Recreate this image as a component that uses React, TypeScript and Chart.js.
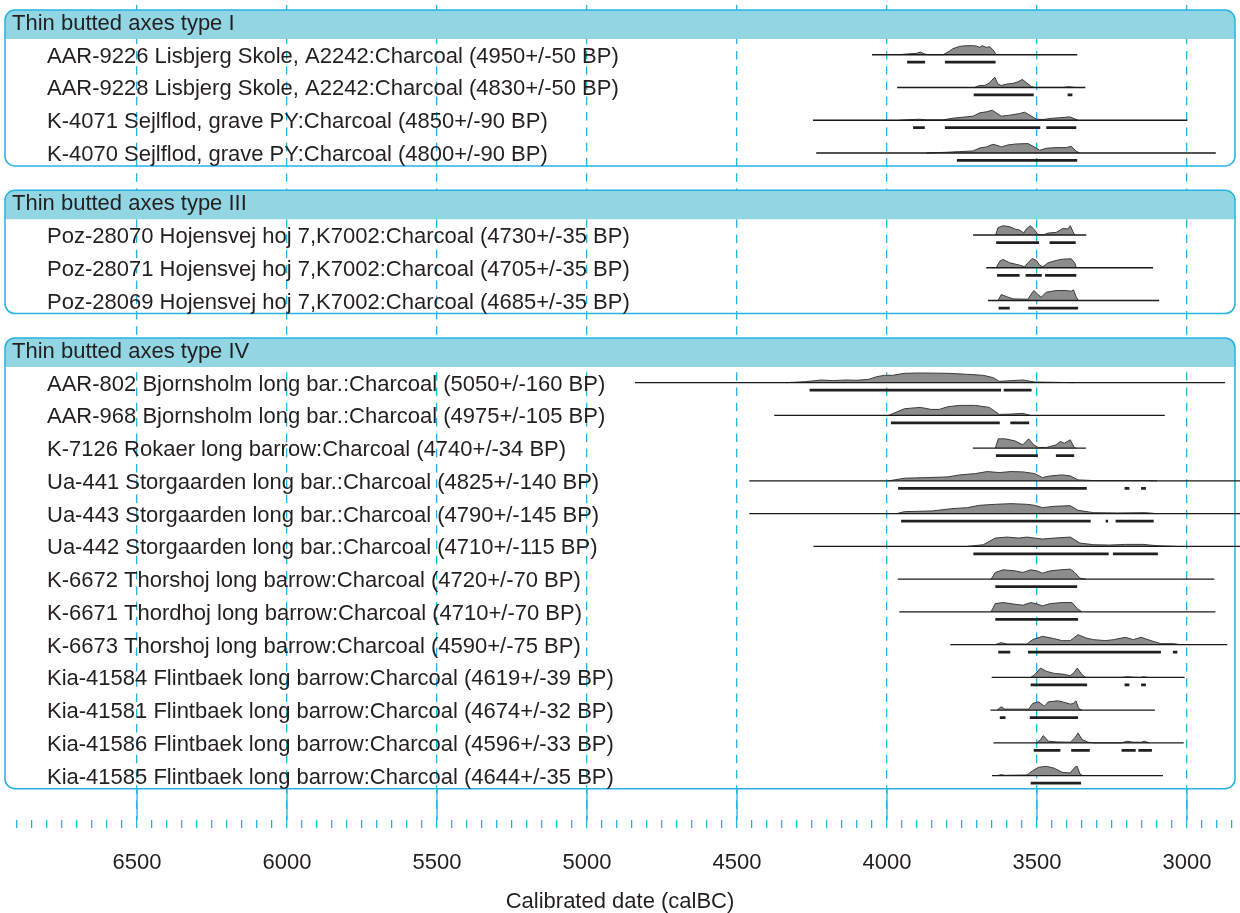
import React, { useEffect, useRef } from 'react';
import { Chart, registerables } from 'chart.js';

Chart.register(...registerables);

// ---------------- DATA ----------------
const groupTitles = ['Thin butted axes type I', 'Thin butted axes type III', 'Thin butted axes type IV'];
const groupSizes = [4, 3, 13];

const sampleLabels = [
  'AAR-9226 Lisbjerg Skole, A2242:Charcoal (4950+/-50 BP)',
  'AAR-9228 Lisbjerg Skole, A2242:Charcoal (4830+/-50 BP)',
  'K-4071 Sejlflod, grave PY:Charcoal (4850+/-90 BP)',
  'K-4070 Sejlflod, grave PY:Charcoal (4800+/-90 BP)',
  'Poz-28070 Hojensvej hoj 7,K7002:Charcoal (4730+/-35 BP)',
  'Poz-28071 Hojensvej hoj 7,K7002:Charcoal (4705+/-35 BP)',
  'Poz-28069 Hojensvej hoj 7,K7002:Charcoal (4685+/-35 BP)',
  'AAR-802 Bjornsholm long bar.:Charcoal (5050+/-160 BP)',
  'AAR-968 Bjornsholm long bar.:Charcoal (4975+/-105 BP)',
  'K-7126 Rokaer long barrow:Charcoal (4740+/-34 BP)',
  'Ua-441 Storgaarden long bar.:Charcoal (4825+/-140 BP)',
  'Ua-443 Storgaarden long bar.:Charcoal (4790+/-145 BP)',
  'Ua-442 Storgaarden long bar.:Charcoal (4710+/-115 BP)',
  'K-6672 Thorshoj long barrow:Charcoal (4720+/-70 BP)',
  'K-6671 Thordhoj long barrow:Charcoal (4710+/-70 BP)',
  'K-6673 Thorshoj long barrow:Charcoal (4590+/-75 BP)',
  'Kia-41584 Flintbaek long barrow:Charcoal (4619+/-39 BP)',
  'Kia-41581 Flintbaek long barrow:Charcoal (4674+/-32 BP)',
  'Kia-41586 Flintbaek long barrow:Charcoal (4596+/-33 BP)',
  'Kia-41585 Flintbaek long barrow:Charcoal (4644+/-35 BP)',
];

// extent of each plotted distribution (calBC)
const lineStart = [4050, 3966, 4247, 4236, 3713, 3669, 3663, 4840, 4376, 3714, 4459, 4459, 4245, 3964, 3959, 3789, 3651, 3655, 3645, 3650];
const lineEnd = [3366, 3339, 2999, 2904, 3336, 3113, 3093, 2873, 3074, 3337, 2790, 2790, 2790, 2909, 2905, 2866, 3008, 3107, 3011, 3080];

// 95.4% ranges (calBC)
const ranges = [
  [[3933, 3873], [3807, 3638]],
  [[3711, 3511], [3398, 3382]],
  [[3913, 3874], [3807, 3489], [3469, 3369]],
  [[3767, 3366]],
  [[3636, 3493], [3458, 3371]],
  [[3633, 3558], [3538, 3484], [3473, 3369]],
  [[3628, 3591], [3529, 3363]],
  [[4258, 3620], [3611, 3518]],
  [[3987, 3624], [3589, 3526]],
  [[3637, 3497], [3437, 3376]],
  [[3963, 3334], [3208, 3192], [3153, 3137]],
  [[3953, 3321], [3271, 3263], [3238, 3111]],
  [[3712, 3261], [3247, 3097]],
  [[3639, 3366]],
  [[3639, 3363]],
  [[3629, 3589], [3530, 3087], [3047, 3032]],
  [[3521, 3333], [3208, 3192], [3153, 3137]],
  [[3624, 3605], [3524, 3363]],
  [[3511, 3422], [3386, 3324], [3218, 3171], [3162, 3117]],
  [[3521, 3353]],
];

// calibrated probability (relative units) : [calBC, prob]
const densities = [
  [[3958, 0], [3936, 2], [3902, 4], [3889, 8], [3874, 2], [3863, 0], [3813, 0], [3797, 8], [3780, 18], [3758, 25], [3736, 27], [3713, 27], [3702, 26], [3691, 22], [3682, 27], [3669, 22], [3658, 24], [3647, 15], [3636, 0]],
  [[3708, 0], [3691, 6], [3674, 6], [3658, 14], [3641, 31], [3630, 10], [3619, 6], [3602, 10], [3580, 12], [3563, 17], [3549, 24], [3536, 15], [3519, 3], [3508, 0], [3413, 0], [3397, 2], [3382, 1], [3374, 0]],
  [[3958, 0], [3913, 2], [3891, 3], [3869, 1], [3813, 1], [3780, 6], [3736, 10], [3713, 12], [3691, 22], [3669, 25], [3649, 30], [3636, 22], [3619, 12], [3591, 15], [3558, 20], [3541, 24], [3524, 15], [3502, 3], [3480, 2], [3447, 6], [3413, 8], [3391, 10], [3374, 4], [3363, 0]],
  [[3869, 0], [3802, 2], [3758, 4], [3713, 6], [3691, 15], [3669, 18], [3647, 26], [3630, 22], [3619, 18], [3597, 24], [3569, 27], [3530, 28], [3513, 20], [3491, 8], [3469, 14], [3436, 16], [3402, 16], [3386, 20], [3369, 5], [3358, 0]],
  [[3638, 0], [3630, 22], [3613, 28], [3591, 25], [3574, 18], [3558, 15], [3544, 6], [3536, 18], [3522, 28], [3508, 15], [3497, 2], [3480, 0], [3463, 6], [3436, 8], [3413, 20], [3397, 18], [3389, 28], [3380, 10], [3374, 0]],
  [[3636, 0], [3624, 20], [3613, 25], [3591, 15], [3558, 8], [3541, 3], [3530, 15], [3516, 28], [3502, 22], [3491, 8], [3480, 3], [3463, 15], [3436, 22], [3413, 26], [3386, 27], [3374, 15], [3369, 0]],
  [[3630, 0], [3619, 18], [3602, 12], [3580, 5], [3530, 4], [3519, 20], [3510, 30], [3497, 18], [3486, 10], [3469, 25], [3436, 30], [3402, 30], [3386, 28], [3378, 32], [3369, 10], [3361, 0]],
  [[4337, 0], [4271, 3], [4218, 8], [4179, 6], [4139, 8], [4100, 7], [4061, 10], [4034, 18], [4008, 22], [3982, 22], [3942, 28], [3889, 29], [3797, 28], [3732, 25], [3679, 22], [3646, 15], [3626, 4], [3587, 6], [3547, 8], [3508, 2], [3376, 0]],
  [[3995, 0], [3968, 10], [3942, 20], [3889, 24], [3853, 18], [3826, 18], [3797, 26], [3758, 30], [3705, 30], [3659, 24], [3626, 3], [3587, 4], [3547, 6], [3521, 0]],
  [[3639, 0], [3629, 28], [3607, 28], [3574, 22], [3547, 10], [3528, 28], [3511, 10], [3495, 2], [3468, 2], [3436, 10], [3422, 20], [3409, 15], [3389, 25], [3376, 2], [3370, 0]],
  [[3995, 0], [3942, 8], [3863, 10], [3797, 12], [3758, 18], [3705, 22], [3666, 28], [3626, 25], [3587, 28], [3547, 27], [3508, 22], [3482, 10], [3455, 15], [3416, 18], [3389, 15], [3363, 3], [3311, 1], [3205, 1], [3139, 1], [3100, 0]],
  [[3968, 0], [3942, 6], [3850, 8], [3784, 15], [3732, 18], [3692, 25], [3639, 28], [3587, 30], [3534, 28], [3508, 25], [3482, 18], [3442, 22], [3389, 24], [3363, 10], [3311, 3], [3232, 2], [3139, 3], [3100, 0]],
  [[3732, 0], [3679, 5], [3639, 25], [3600, 28], [3561, 25], [3534, 28], [3508, 25], [3482, 22], [3442, 25], [3389, 28], [3357, 10], [3311, 5], [3258, 4], [3205, 6], [3146, 6], [3100, 2], [3034, 0]],
  [[3653, 0], [3639, 20], [3613, 28], [3574, 25], [3547, 20], [3521, 28], [3501, 25], [3482, 18], [3455, 25], [3422, 28], [3389, 30], [3374, 20], [3357, 3], [3337, 0]],
  [[3653, 0], [3639, 25], [3613, 28], [3574, 23], [3547, 20], [3521, 28], [3501, 24], [3482, 18], [3455, 25], [3416, 28], [3383, 28], [3366, 10], [3350, 0]],
  [[3639, 0], [3620, 6], [3600, 2], [3534, 2], [3514, 15], [3482, 25], [3442, 18], [3416, 12], [3389, 12], [3363, 30], [3337, 20], [3311, 15], [3271, 12], [3245, 15], [3205, 22], [3179, 15], [3153, 22], [3120, 12], [3087, 3], [3047, 3], [3021, 0]],
  [[3521, 0], [3508, 8], [3488, 28], [3468, 18], [3442, 12], [3416, 10], [3389, 5], [3376, 15], [3366, 28], [3350, 8], [3337, 0], [3220, 0], [3199, 2], [3170, 0], [3155, 0], [3146, 2], [3130, 0]],
  [[3633, 0], [3620, 10], [3607, 3], [3528, 3], [3514, 20], [3495, 25], [3475, 12], [3462, 25], [3429, 28], [3403, 22], [3389, 18], [3379, 20], [3370, 28], [3361, 5], [3350, 0]],
  [[3501, 0], [3488, 10], [3479, 22], [3462, 5], [3436, 3], [3389, 2], [3374, 15], [3363, 30], [3350, 10], [3330, 2], [3311, 0], [3218, 0], [3199, 5], [3179, 2], [3153, 2], [3142, 5], [3126, 0]],
  [[3633, 0], [3620, 3], [3607, 1], [3534, 2], [3514, 15], [3495, 25], [3468, 28], [3442, 22], [3416, 10], [3389, 8], [3374, 25], [3366, 28], [3357, 5], [3347, 0]],
];

const axisMinBC = 2823.3;
const axisMaxBC = 6956.7;
const firstMinorTick = 6900;
const tickStep = 50;
const labelStep = 500;
const axisTitle = 'Calibrated date (calBC)';

// ---------------- STYLE / LAYOUT ----------------
const W = 1240;
const H = 913;
const CYAN = '#27b2e4';
const HEADER_FILL = '#93d6e3';
const TEXT = '#231f20';
const FONT = '"Liberation Sans", Arial, Helvetica, sans-serif';
const FONT_SIZE = 22;

const BOX_TOP0 = 10;
const HEADER_H = 29;
const FIRST_ROW = 44.7;
const ROW_STEP = 32.75;
const LAST_PAD = 13;
const GROUP_GAP = 24.4;
const BOX_LEFT = 5;
const BOX_RIGHT = 1235;
const BOX_R = 10;
const PROB_SCALE = 1 / 3; // px per probability unit
const BAR_OFFSET = 7.5;
const TRANSPARENT = 'rgba(0,0,0,0)';

function computeLayout() {
  const groups: { top: number; bottom: number }[] = [];
  const rowY: number[] = [];
  let top = BOX_TOP0;
  groupSizes.forEach((n) => {
    const first = top + FIRST_ROW;
    for (let i = 0; i < n; i++) rowY.push(first + i * ROW_STEP);
    const bottom = first + (n - 1) * ROW_STEP + LAST_PAD;
    groups.push({ top, bottom });
    top = bottom + GROUP_GAP;
  });
  return { groups, rowY };
}

export default function App() {
  const ref = useRef<HTMLCanvasElement | null>(null);

  useEffect(() => {
    if (!ref.current) return;
    const { groups, rowY } = computeLayout();

    const datasets: any[] = [];
    sampleLabels.forEach((_, i) => {
      const base = rowY[i];
      datasets.push({
        label: 'density ' + i,
        data: densities[i].map(([yr, p]) => ({ x: yr, y: base - p * PROB_SCALE })),
        borderColor: '#3b3b3b',
        borderWidth: 1,
        backgroundColor: '#8c8c8c',
        fill: { value: base },
        pointRadius: 0,
        tension: 0,
        order: 3,
      });
      datasets.push({
        label: 'line ' + i,
        data: [
          { x: lineStart[i], y: base },
          { x: lineEnd[i], y: base },
        ],
        borderColor: '#1a1a1a',
        borderWidth: 1.4,
        pointRadius: 0,
        fill: false,
        order: 2,
      });
      const pts: any[] = [];
      ranges[i].forEach(([a, b]) => {
        pts.push({ x: a, y: base + BAR_OFFSET });
        pts.push({ x: b, y: base + BAR_OFFSET });
        pts.push({ x: b, y: null });
      });
      datasets.push({
        label: 'range ' + i,
        data: pts,
        borderColor: '#231f20',
        borderWidth: 2.8,
        pointRadius: 0,
        fill: false,
        spanGaps: false,
        order: 1,
      });
    });

    const decor = {
      id: 'decor',
      beforeDatasetsDraw(chart: any) {
        const { ctx, chartArea } = chart;
        const xs = chart.scales.x;
        const ys = chart.scales.y;
        ctx.save();
        // solid extension of major ticks below the last box
        const lastBottom = ys.getPixelForValue(groups[groups.length - 1].bottom);
        ctx.strokeStyle = CYAN;
        ctx.lineWidth = 1.3;
        for (let v = Math.ceil(axisMinBC / labelStep) * labelStep; v <= axisMaxBC; v += labelStep) {
          const px = xs.getPixelForValue(v);
          ctx.beginPath();
          ctx.moveTo(px, lastBottom);
          ctx.lineTo(px, chartArea.bottom);
          ctx.stroke();
        }
        groups.forEach((g, gi) => {
          const top = ys.getPixelForValue(g.top);
          const bottom = ys.getPixelForValue(g.bottom);
          const hb = top + HEADER_H;
          // header band
          ctx.beginPath();
          ctx.moveTo(BOX_LEFT, hb);
          ctx.lineTo(BOX_LEFT, top + BOX_R);
          ctx.arcTo(BOX_LEFT, top, BOX_LEFT + BOX_R, top, BOX_R);
          ctx.lineTo(BOX_RIGHT - BOX_R, top);
          ctx.arcTo(BOX_RIGHT, top, BOX_RIGHT, top + BOX_R, BOX_R);
          ctx.lineTo(BOX_RIGHT, hb);
          ctx.closePath();
          ctx.fillStyle = HEADER_FILL;
          ctx.fill();
          // outline
          ctx.beginPath();
          ctx.roundRect(BOX_LEFT, top, BOX_RIGHT - BOX_LEFT, bottom - top, BOX_R);
          ctx.strokeStyle = CYAN;
          ctx.lineWidth = 1.5;
          ctx.stroke();
          // title
          ctx.fillStyle = TEXT;
          ctx.font = `${FONT_SIZE}px ${FONT}`;
          ctx.textBaseline = 'alphabetic';
          ctx.textAlign = 'left';
          ctx.fillText(groupTitles[gi], 12, top + 20);
        });
        ctx.fillStyle = TEXT;
        ctx.font = `${FONT_SIZE}px ${FONT}`;
        sampleLabels.forEach((lab, i) => {
          ctx.fillText(lab, 47, ys.getPixelForValue(rowY[i]) + 8);
        });
        ctx.restore();
      },
    };

    const chart = new Chart(ref.current, {
      type: 'line',
      data: { datasets },
      plugins: [decor],
      options: {
        responsive: false,
        animation: false,
        events: [],
        layout: { autoPadding: false, padding: { top: 5, left: 0, right: 0, bottom: 0 } },
        plugins: { legend: { display: false }, tooltip: { enabled: false } },
        scales: {
          x: {
            type: 'linear',
            reverse: true,
            min: axisMinBC,
            max: axisMaxBC,
            afterFit: (scale: any) => {
              scale.height = 93;
              scale.paddingLeft = 0;
              scale.paddingRight = 0;
            },
            border: { display: false, dash: [8.5, 6.8] },
            grid: {
              color: (c: any) => (c.tick && c.tick.value % labelStep === 0 ? CYAN : TRANSPARENT),
              lineWidth: 1.3,
              tickLength: 8,
              tickColor: (c: any) => (c.tick && c.tick.value > firstMinorTick ? TRANSPARENT : CYAN),
              tickWidth: 1.3,
              drawTicks: true,
            },
            ticks: {
              stepSize: tickStep,
              autoSkip: false,
              includeBounds: false,
              maxRotation: 0,
              padding: 22,
              color: TEXT,
              font: { family: FONT, size: FONT_SIZE },
              callback: (v: any) => (Number(v) % labelStep === 0 ? String(v) : ''),
            },
            title: {
              display: true,
              text: axisTitle,
              color: TEXT,
              font: { family: FONT, size: FONT_SIZE, lineHeight: 1.05 },
              padding: { top: 0, bottom: 0 },
            },
          },
          y: {
            type: 'linear',
            display: false,
            reverse: true,
            min: 5,
            max: 820,
          },
        },
      },
    });
    return () => chart.destroy();
  }, []);

  return (
    <div style={{ position: 'absolute', left: 0, top: 0, width: W, height: H, background: '#fff' }}>
      <canvas ref={ref} width={W} height={H} style={{ display: 'block' }} />
    </div>
  );
}
